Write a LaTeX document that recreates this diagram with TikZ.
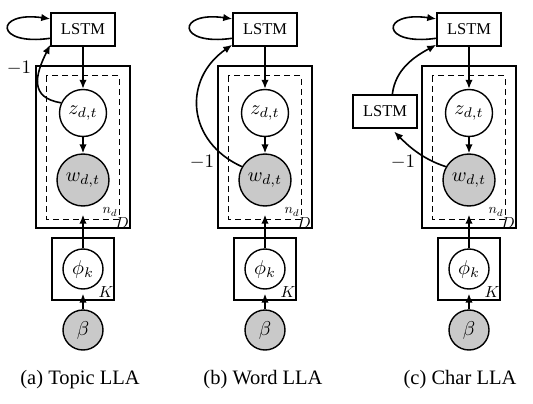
\documentclass[tikz,border=0pt]{standalone}
\usepackage{fontspec}
\setmainfont{Liberation Serif}
\usetikzlibrary{arrows.meta,calc}
\begin{document}
\begin{tikzpicture}[x=1pt,y=1pt,
  every node/.style={inner sep=0pt},
  lstm/.style={draw, line width=1.5pt, minimum width=64pt, minimum height=33pt, font=\fontsize{16.5}{16.5}\selectfont},
  var/.style={draw, circle, line width=1.4pt, fill=white},
  obs/.style={var, fill=gray!42},
  plate/.style={draw, line width=2pt},
  dplate/.style={draw, line width=1pt, dash pattern=on 6pt off 4pt},
  arr/.style={-{Latex[length=9pt,width=7.5pt]}, line width=1.6pt},
  mth/.style={scale=2},
  lab/.style={scale=1.9},
  captext/.style={font=\fontsize{20.5}{20.5}\selectfont}
]
\useasboundingbox (0,0) rectangle (533,-404);
\foreach \i/\dx in {1/0,2/182,3/386}{
  \begin{scope}[xshift=\dx]
    \draw[plate] (36,-66) rectangle (130,-228);
    \draw[dplate] (46,-76) rectangle (119,-219);
    \draw[plate] (52,-238) rectangle (114,-300);
    \node[lstm] (l\i) at (83,-29.5) {LSTM};
    \node[var, minimum size=47pt] (z\i) at (83,-113) {};
    \node[mth] (zt\i) at (z\i) {$z_{d,t}$};
    \node[obs, minimum size=52pt] (w\i) at (83,-180) {};
    \node[mth] (wt\i) at (w\i) {$w_{d,t}$};
    \node[var, minimum size=40pt] (p\i) at (83,-269) {};
    \node[mth] (pt\i) at (p\i) {$\phi_k$};
    \node[obs, minimum size=40pt] (b\i) at (83,-330) {};
    \node[mth] (bt\i) at (b\i) {$\beta$};
    \node[scale=1.4] (nd\i) at (110,-212) {$n_d$};
    \node[scale=1.6] (dd\i) at (122,-223) {$D$};
    \node[scale=1.6] (kk\i) at (106,-292) {$K$};
    \draw[arr] (l\i) -- (z\i);
    \draw[arr] (z\i) -- (w\i);
    \draw[arr, shorten >=8pt] (p\i) -- (w\i);
    \draw[arr, shorten >=4pt] (b\i) -- (p\i);
    \draw[arr] (l\i.195) .. controls +(-56,-8) and +(-56,8) .. (l\i.162);
  \end{scope}
}
% (a)
\draw[arr] (z1.155) .. controls +(-32,5) and +(-15,-30) .. (l1.205);
\node[lab] (m1) at (19,-68) {$-1$};
\node[captext] (c1) at (80,-380) {(a) Topic LLA};
% (b)
\draw[arr] (w2.150) .. controls +(-55,25) and +(-50,-35) .. (l2.205);
\node[lab] (m2) at (202,-162) {$-1$};
\node[captext] (c2) at (263,-380) {(b) Word LLA};
% (c)
\node[lstm] (l4) at (385,-111.5) {LSTM};
\draw[arr, shorten >=4pt] (w3.150) .. controls +(-25,8) and +(15,-15) .. (l4.-70);
\draw[arr] (l4.67) .. controls +(3,25) and +(-22,-12) .. (l3.205);
\node[lab] (m3) at (403,-162) {$-1$};
\node[captext] (c3) at (460,-380) {(c) Char LLA};
\end{tikzpicture}
\end{document}
